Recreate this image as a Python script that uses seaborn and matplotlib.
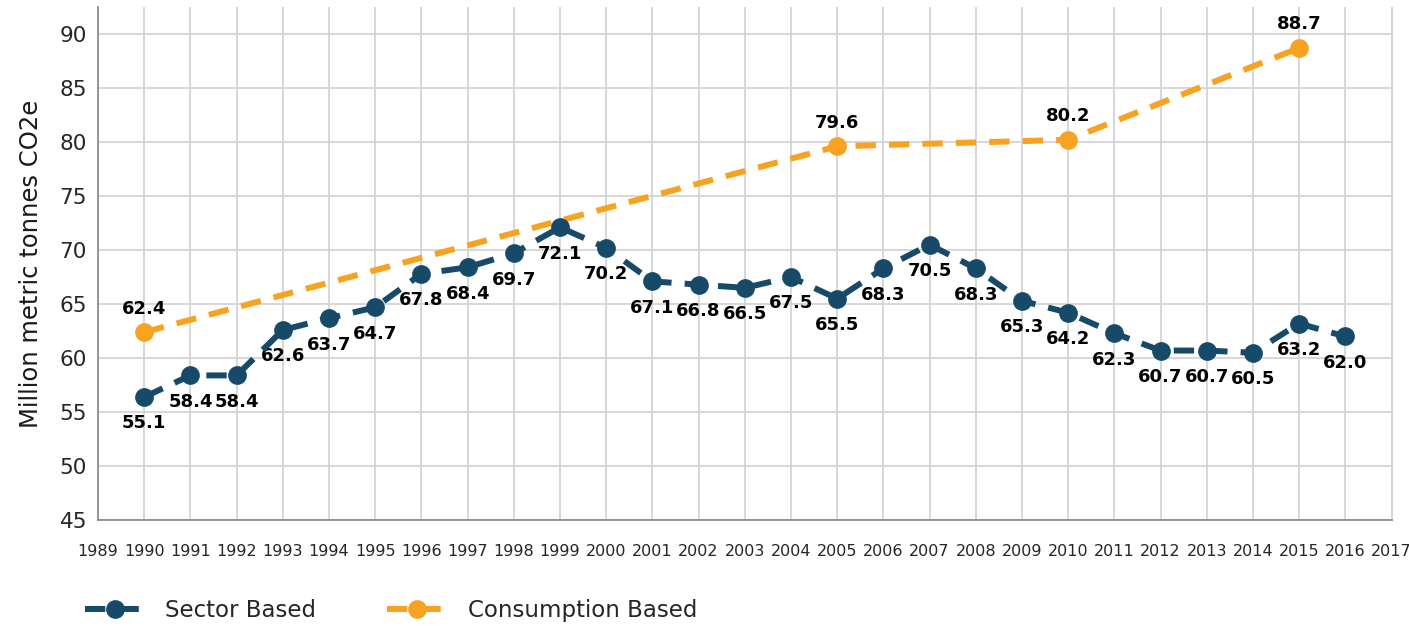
import matplotlib
matplotlib.use("Agg")
import matplotlib.pyplot as plt
import seaborn as sns
import pandas as pd

# data
sector_years = list(range(1990, 2017))
sector_vals = [56.4, 58.4, 58.4, 62.6, 63.7, 64.7, 67.8, 68.4, 69.7, 72.1,
               70.2, 67.1, 66.8, 66.5, 67.5, 65.5, 68.3, 70.5, 68.3, 65.3,
               64.2, 62.3, 60.7, 60.7, 60.5, 63.2, 62.0]
sector_labels = ["55.1", "58.4", "58.4", "62.6", "63.7", "64.7", "67.8", "68.4", "69.7", "72.1",
                 "70.2", "67.1", "66.8", "66.5", "67.5", "65.5", "68.3", "70.5", "68.3", "65.3",
                 "64.2", "62.3", "60.7", "60.7", "60.5", "63.2", "62.0"]

cons_years = [1990, 2005, 2010, 2015]
cons_vals = [62.4, 79.6, 80.2, 88.7]
cons_labels = ["62.4", "79.6", "80.2", "88.7"]

year_ticks = list(range(1989, 2018))
y_ticks = [45, 50, 55, 60, 65, 70, 75, 80, 85, 90]

NAVY = "#174a69"
ORANGE = "#f8a221"

sns.set_style("white")
plt.rcParams["font.family"] = ["DejaVu Sans"]

sector_df = pd.DataFrame({"year": sector_years, "value": sector_vals})
cons_df = pd.DataFrame({"year": cons_years, "value": cons_vals})

fig = plt.figure(figsize=(14.09, 6.26), dpi=100)
ax = fig.add_axes([0.0696, 0.169, 0.918, 0.82])

sns.lineplot(data=sector_df, x="year", y="value", ax=ax, color=NAVY,
             linewidth=4.3, linestyle=(0, (3.4, 2.2)), marker="o", markersize=13.5,
             markeredgewidth=0, label="Sector Based", zorder=4)
sns.lineplot(data=cons_df, x="year", y="value", ax=ax, color=ORANGE,
             linewidth=4.3, linestyle=(0, (3.4, 2.2)), marker="o", markersize=13.5,
             markeredgewidth=0, label="Consumption Based", zorder=3)

for x, y, t in zip(sector_years, sector_vals, sector_labels):
    ax.annotate(t, (x, y), xytext=(0, -19), textcoords="offset points",
                ha="center", va="center", fontsize=13, fontweight="bold", color="black")
for x, y, t in zip(cons_years, cons_vals, cons_labels):
    ax.annotate(t, (x, y), xytext=(0, 17), textcoords="offset points",
                ha="center", va="center", fontsize=13, fontweight="bold", color="black")

ax.set_xlim(1989, 2017)
ax.set_ylim(45, 92.5)
ax.set_xticks(year_ticks)
ax.set_xticklabels([str(y) for y in year_ticks], fontsize=11.5)
ax.set_yticks(y_ticks)
ax.set_yticklabels([str(v) for v in y_ticks], fontsize=15.5)
ax.tick_params(axis="x", length=0, pad=17)
ax.tick_params(axis="y", length=0, pad=8)
ax.grid(True, color="#d4d4d4", linewidth=1.3)
ax.set_axisbelow(True)
ax.set_xlabel("")
ax.set_ylabel("Million metric tonnes CO2e", fontsize=17.5, color="#1a1a1a", labelpad=12)

ax.spines["top"].set_visible(False)
ax.spines["right"].set_color("#d4d4d4")
ax.spines["left"].set_color("#8c8c8c")
ax.spines["bottom"].set_color("#8c8c8c")
ax.spines["left"].set_linewidth(1.3)
ax.spines["bottom"].set_linewidth(1.3)

leg = ax.legend(loc="center left", bbox_to_anchor=(-0.017, -0.175), ncol=2, frameon=False,
                fontsize=16.5, handlelength=2.6, handletextpad=0.9, columnspacing=3.1,
                borderaxespad=0)

fig.savefig("out.png", dpi=100)
